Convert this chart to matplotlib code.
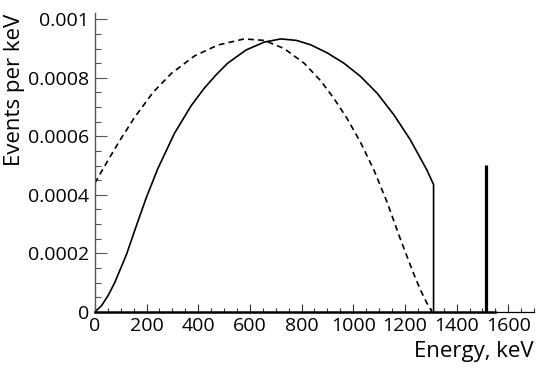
import numpy as np
import matplotlib
matplotlib.use('Agg')
import matplotlib.pyplot as plt
from matplotlib.ticker import MultipleLocator

plt.rcParams['font.family'] = ['Open Sans', 'DejaVu Sans']

# beta spectrum (solid), in units of 1e-4 per keV
solid_E = [0, 25, 51, 77, 122, 161, 199, 244, 308, 373, 424, 469, 514,
           585, 655, 720, 780, 835, 900, 964, 1028, 1092, 1157, 1221, 1285,
           1311, 1311]
solid_y = [0, 0.2, 0.55, 1.0, 1.95, 2.95, 3.9, 4.9, 6.1, 7.05, 7.65, 8.1,
           8.5, 8.95, 9.22, 9.33, 9.28, 9.13, 8.85, 8.5, 8.05, 7.48, 6.74,
           5.88, 4.85, 4.35, 0]

# second spectrum (dashed)
dash_E = [0, 39, 96, 154, 225, 296, 386, 476, 578, 655, 733, 810, 874, 925,
          977, 1028, 1080, 1131, 1182, 1234, 1260, 1285, 1305]
dash_y = [4.4, 5.0, 5.85, 6.65, 7.5, 8.15, 8.75, 9.12, 9.33, 9.28, 9.0,
          8.5, 7.9, 7.3, 6.6, 5.8, 4.85, 3.75, 2.5, 1.3, 0.75, 0.3, 0]

# gamma line
line_E = 1515
line_y = 5.03

scale = 1e-4
yticks = [0, 0.0002, 0.0004, 0.0006, 0.0008, 0.001]
ylabels = ['0', '0.0002', '0.0004', '0.0006', '0.0008', '0.001']
xticks = [0, 200, 400, 600, 800, 1000, 1200, 1400, 1600]

fig = plt.figure(figsize=(5.45, 3.85), dpi=100)
ax = fig.add_axes([0.174, 0.19, 0.806, 0.775])

ax.plot(solid_E, np.array(solid_y) * scale, color='black', lw=1.2)
ax.plot(dash_E, np.array(dash_y) * scale, color='black', lw=1.2,
        linestyle=(0, (3.5, 2.5)))
ax.vlines(line_E, 0, line_y * scale, color='black', lw=2.3)

ax.set_xlim(0, 1700)
ax.set_ylim(0, 0.00102)

ax.set_xticks(xticks)
ax.set_xticklabels([str(x) for x in xticks])
ax.xaxis.set_minor_locator(MultipleLocator(50))
ax.set_yticks(yticks)
ax.set_yticklabels(ylabels)
ax.yaxis.set_minor_locator(MultipleLocator(0.00005))

ax.tick_params(axis='x', which='major', direction='in', length=6, width=0.8,
               labelsize=14, pad=4, color='#333333')
ax.tick_params(axis='x', which='minor', direction='in', length=3, width=0.8,
               color='#333333')
ax.tick_params(axis='y', which='major', direction='in', length=8.5, width=0.8,
               labelsize=14, pad=4, color='#555555')
ax.tick_params(axis='y', which='minor', direction='in', length=4.3, width=0.8,
               color='#555555')

for s in ['top', 'right']:
    ax.spines[s].set_visible(False)
ax.spines['left'].set_color('#555555')
ax.spines['left'].set_linewidth(1.0)
ax.spines['bottom'].set_linewidth(1.8)
ax.spines['bottom'].set_bounds(0, 1550)
ax.plot([1550, 1700], [0, 0], color='black', lw=0.9, clip_on=False)

ax.set_xlabel('Energy, keV', fontsize=16, loc='right', labelpad=4)
ax.set_ylabel('Events per keV', fontsize=16, loc='top', labelpad=2)

fig.savefig('out.png', dpi=100)
